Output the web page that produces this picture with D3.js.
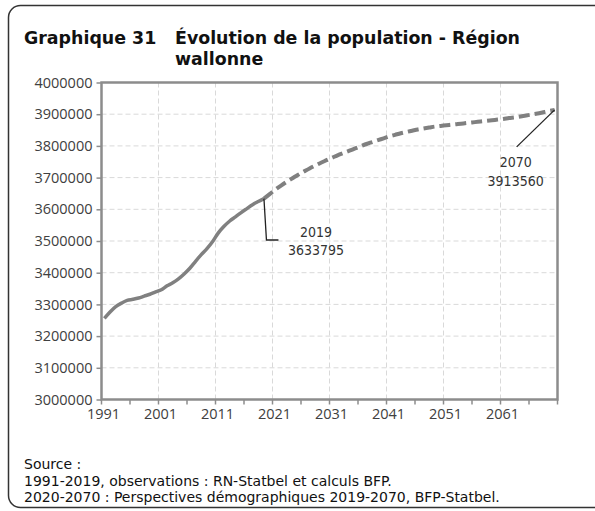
<!DOCTYPE html>
<html>
<head>
<meta charset="utf-8">
<script src="https://cdn.jsdelivr.net/npm/d3@7"></script>
<style>
  body { margin: 0; background: #fff; }
  svg { display: block; }
</style>
</head>
<body>
<div id="chart"></div>
<script>
// Population de la Région wallonne, 1991-2070
const firstYear = 1991;
const lastYear = 2070;
const labelYears = [1991, 2001, 2011, 2021, 2031, 2041, 2051, 2061];
const yTicks = [3000000, 3100000, 3200000, 3300000, 3400000, 3500000,
                3600000, 3700000, 3800000, 3900000, 4000000];

// observations 1991-2019
const observed = [
  3255711, 3276000, 3293000, 3304000, 3312888, 3316000, 3320000, 3326000,
  3332000, 3339516, 3346457, 3358560, 3368250, 3380498, 3395942, 3413978,
  3435879, 3456775, 3475862, 3498384, 3525540, 3546329, 3563060, 3576325,
  3589744, 3602216, 3614473, 3624377, 3633795
];
// perspectives 2019-2070 (starts at last observation)
const projected = [
  3633795, 3648000, 3662000, 3675000, 3687000, 3698000, 3709000, 3719000,
  3729000, 3738000, 3747000, 3755000, 3763000, 3771000, 3778000, 3785000,
  3792000, 3799000, 3806000, 3812000, 3818000, 3824000, 3830000, 3835000,
  3840000, 3844000, 3848000, 3852000, 3855000, 3858000, 3861000, 3863000,
  3865000, 3867000, 3869000, 3871000, 3873000, 3875000, 3877000, 3879000,
  3881000, 3883000, 3885000, 3888000, 3890000, 3893000, 3896000, 3899000,
  3902000, 3906000, 3910000, 3913560
];

const width = 595, height = 511;
const margin = { top: 82.5, right: 37.5, bottom: 111.5, left: 101.5 };
const plotW = width - margin.left - margin.right;
const plotH = height - margin.top - margin.bottom;

const svg = d3.select('#chart')
  .append('svg')
  .attr('width', width)
  .attr('height', height);

// cadre
svg.append('rect')
  .attr('x', 8.5).attr('y', 5.5)
  .attr('width', 600).attr('height', 502)
  .attr('rx', 12)
  .attr('fill', '#fff')
  .attr('stroke', '#333')
  .attr('stroke-width', 1.5);

const titleFont = '"DejaVu Sans", sans-serif';
svg.append('text')
  .attr('x', 24).attr('y', 44)
  .attr('font-family', titleFont).attr('font-weight', 'bold')
  .attr('font-size', 17.4).attr('fill', '#111')
  .text('Graphique 31');
const t2 = svg.append('text')
  .attr('font-family', titleFont).attr('font-weight', 'bold')
  .attr('font-size', 17.4).attr('fill', '#111');
t2.append('tspan').attr('x', 175).attr('y', 44).text('Évolution de la population - Région');
t2.append('tspan').attr('x', 175).attr('y', 65).text('wallonne');

const years = d3.range(firstYear, lastYear + 1);
const x = d3.scaleBand()
  .domain(years)
  .range([0, plotW]);
const y = d3.scaleLinear()
  .domain([3000000, 4000000])
  .range([plotH, 0]);
const cx = yr => x(yr) + x.bandwidth() / 2;

const g = svg.append('g')
  .attr('transform', `translate(${margin.left},${margin.top})`);

// quadrillage
g.append('g').selectAll('line')
  .data(yTicks.slice(1, -1))
  .enter().append('line')
  .attr('x1', 0).attr('x2', plotW)
  .attr('y1', d => y(d)).attr('y2', d => y(d))
  .attr('stroke', '#d9d9d9').attr('stroke-width', 1)
  .attr('stroke-dasharray', '5,3');
g.append('g').selectAll('line')
  .data(labelYears.slice(1))
  .enter().append('line')
  .attr('x1', d => x(d)).attr('x2', d => x(d))
  .attr('y1', 0).attr('y2', plotH)
  .attr('stroke', '#d9d9d9').attr('stroke-width', 1)
  .attr('stroke-dasharray', '5,3');

// axe Y
const axisFont = '"Open Sans", sans-serif';
const yAxis = g.append('g')
  .call(d3.axisLeft(y).tickValues(yTicks).tickFormat(d3.format('d')).tickSize(5).tickPadding(4));
yAxis.select('.domain').remove();
yAxis.selectAll('line').attr('stroke', '#8c8c8c').attr('stroke-width', 1.5);
yAxis.selectAll('text')
  .attr('font-family', axisFont).attr('font-size', 14.5).attr('fill', '#404040');

// axe X
const xTickYears = years.filter(d => (d - firstYear) % 5 === 0);
const xAxis = g.append('g')
  .attr('transform', `translate(0,${plotH})`);
xAxis.selectAll('line')
  .data(xTickYears.concat([null]))
  .enter().append('line')
  .attr('x1', d => d === null ? plotW : x(d))
  .attr('x2', d => d === null ? plotW : x(d))
  .attr('y1', 0).attr('y2', 5)
  .attr('stroke', '#8c8c8c').attr('stroke-width', 1.5);
xAxis.selectAll('text')
  .data(labelYears)
  .enter().append('text')
  .attr('x', d => x(d) + 2)
  .attr('y', 19.5)
  .attr('text-anchor', 'middle')
  .attr('font-family', axisFont).attr('font-size', 14.5).attr('fill', '#404040')
  .text(d => d);

// cadre du graphique
g.append('rect')
  .attr('x', 0).attr('y', 0)
  .attr('width', plotW).attr('height', plotH)
  .attr('fill', 'none')
  .attr('stroke', '#8c8c8c').attr('stroke-width', 2.5);

// courbes
const obsData = observed.map((v, i) => ({ year: firstYear + i, value: v }));
const projData = projected.map((v, i) => ({ year: 2019 + i, value: v }));
const line = d3.line()
  .x(d => cx(d.year))
  .y(d => y(d.value))
  .curve(d3.curveMonotoneX);

g.append('path')
  .datum(obsData)
  .attr('d', line)
  .attr('fill', 'none')
  .attr('stroke', '#808080')
  .attr('stroke-width', 3.5);

g.append('path')
  .datum(projData)
  .attr('d', line)
  .attr('fill', 'none')
  .attr('stroke', '#808080')
  .attr('stroke-width', 4)
  .attr('stroke-dasharray', '11,5');

// étiquettes
const annFont = '"DejaVu Sans Condensed", "DejaVu Sans", sans-serif';
const p2019 = obsData[obsData.length - 1];
const p2070 = projData[projData.length - 1];

g.append('path')
  .attr('d', `M${cx(p2019.year)},${y(p2019.value)} L${cx(p2019.year) + 2.5},${y(3500000) - 1} h12`)
  .attr('fill', 'none').attr('stroke', '#222').attr('stroke-width', 1.3);
const a1 = g.append('text')
  .attr('text-anchor', 'middle')
  .attr('font-family', annFont).attr('font-size', 14).attr('fill', '#333');
a1.append('tspan').attr('x', cx(p2019.year) + 52).attr('y', y(3500000) - 4).text(p2019.year);
a1.append('tspan').attr('x', cx(p2019.year) + 52).attr('y', y(3500000) + 14).text(p2019.value);

g.append('line')
  .attr('x1', cx(p2070.year)).attr('y1', y(p2070.value))
  .attr('x2', cx(p2070.year) - 38).attr('y2', y(p2070.value) + 37)
  .attr('stroke', '#222').attr('stroke-width', 1.3);
const a2 = g.append('text')
  .attr('text-anchor', 'middle')
  .attr('font-family', annFont).attr('font-size', 14).attr('fill', '#333');
a2.append('tspan').attr('x', cx(p2070.year) - 39).attr('y', y(p2070.value) + 57).text(p2070.year);
a2.append('tspan').attr('x', cx(p2070.year) - 39).attr('y', y(p2070.value) + 76).text(p2070.value);

// source
const src = svg.append('text')
  .attr('font-family', titleFont).attr('font-size', 14).attr('fill', '#111');
src.append('tspan').attr('x', 24).attr('y', 469).text('Source :');
src.append('tspan').attr('x', 24).attr('y', 486).text('1991-2019, observations : RN-Statbel et calculs BFP.');
src.append('tspan').attr('x', 24).attr('y', 502).text('2020-2070 : Perspectives démographiques 2019-2070, BFP-Statbel.');
</script>
</body>
</html>
